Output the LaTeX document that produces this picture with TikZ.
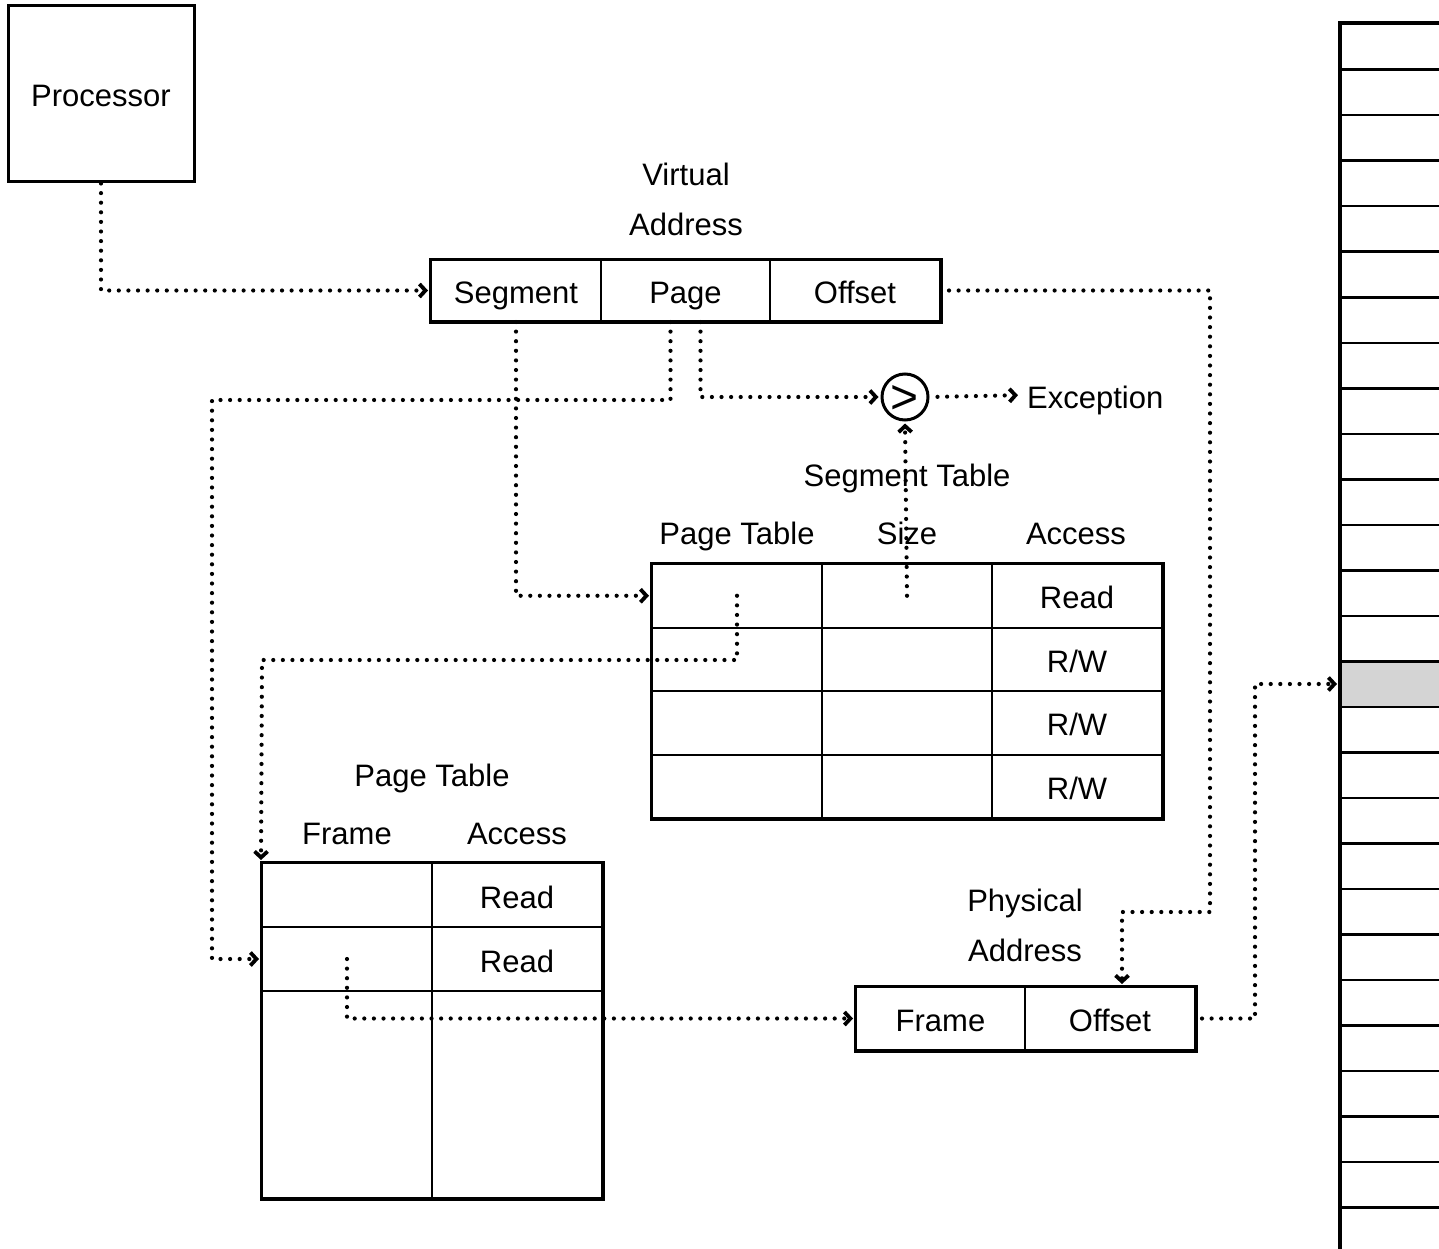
\documentclass[tikz,border=0pt]{standalone}
\usepackage{fontspec}
\setmainfont{Liberation Sans}
\usetikzlibrary{arrows.meta,calc}

\tikzset{
  lbl/.style={font=\fontsize{31}{50}\selectfont, text height=28pt, text depth=2pt, inner sep=0pt},
  cell/.style={draw, line width=2pt, lbl, minimum width=170pt, minimum height=63.5pt},
  frame/.style={line width=3pt},
  flow/.style={line width=4.2pt, line cap=round, dash pattern=on 0pt off 9.6pt,
    -{Straight Barb[length=6pt,width=13pt,line width=3.8pt]}, shorten >=2pt},
  memrow/.style={draw, line width=2.5pt, minimum width=200pt, minimum height=45.5pt,
    anchor=north west, inner sep=0pt}
}

\begin{document}
\begin{tikzpicture}[x=1pt, y=-1pt]
	%%%%% START %%%%%
	\useasboundingbox (0,0) rectangle (1439,1249);
	
	\node[draw, frame, lbl, minimum width=186pt, minimum height=176pt] (proc) at (101,94) {Processor};
	
	% virtual address
	\node[font=\fontsize{31}{50}\selectfont, align=center] (vaddr) at (686,199) {Virtual\\Address};
	\node[cell, minimum height=61pt] (vseg) at (516,290.5) {Segment};
	\node[cell, minimum height=61pt, minimum width=169pt] (vpg) at (685.5,290.5) {Page};
	\node[cell, minimum height=61pt] (voff) at (855,290.5) {Offset};
	\draw[frame] (vseg.north west) rectangle (voff.south east);
	
	% comparator
	\node[circle, draw, line width=3pt, minimum size=46pt, inner sep=0pt,
	  font=\fontsize{48}{48}\selectfont, text height=33pt, text depth=0pt] (cmp) at (905,397) {>};
	\node[lbl, anchor=west] (exc) at (1027,395) {Exception};
	
	% segment table
	\node[lbl] (sttitle) at (907,473) {Segment Table};
	\node[lbl] (sthpt) at (737,531) {Page Table};
	\node[lbl] (sthsz) at (907,531) {Size};
	\node[lbl] (sthac) at (1076,531) {Access};
	\foreach \acc [count=\i] in {Read, R/W, R/W, R/W} {
		\node[cell] (st-\i-1) at (737,532.25+63.5*\i) {};
		\node[cell] (st-\i-2) at (907,532.25+63.5*\i) {};
		\node[cell] (st-\i-3) at (1077,532.25+63.5*\i) {\acc};
	}
	\draw[frame] (st-1-1.north west) rectangle (st-4-3.south east);
	
	% page table
	\node[lbl] (pttitle) at (432,773) {Page Table};
	\node[lbl] (pthfr) at (347,831) {Frame};
	\node[lbl] (pthac) at (517,831) {Access};
	\node[cell, minimum height=64pt] (pt-1-1) at (347,895) {};
	\node[cell, minimum height=64pt] (pt-1-2) at (517,895) {Read};
	\node[cell, minimum height=64pt] (pt-2-1) at (347,959) {};
	\node[cell, minimum height=64pt] (pt-2-2) at (517,959) {Read};
	\node[cell, minimum height=207pt] (pt-3-1) at (347,1094.5) {};
	\node[cell, minimum height=207pt] (pt-3-2) at (517,1094.5) {};
	\draw[frame] (pt-1-1.north west) rectangle (pt-3-2.south east);
	
	% physical address
	\node[font=\fontsize{31}{50}\selectfont, align=center] (paddr) at (1025,925) {Physical\\Address};
	\node[cell, minimum height=63pt, minimum width=169pt] (pfr) at (940.5,1018.5) {Frame};
	\node[cell, minimum height=63pt] (poff) at (1110,1018.5) {Offset};
	\draw[frame] (pfr.north west) rectangle (poff.south east);
	
	% memory
	\foreach \i in {0,...,26} {
		\node[memrow] (mem-\i) at (1339,23+45.5*\i) {};
	}
	\node[memrow, fill=black!17] (mem-14) at (1339,23+45.5*14) {};
	\draw[frame] (mem-26.south west) -- (mem-0.north west) -- (mem-0.north east);
	
	% connectors
	\coordinate (pgturn) at (212,400);
	\coordinate (offturn) at (1210,912);
	\coordinate (ptturn) at (262,660);
	\draw[flow] (proc.south) |- (vseg.west);
	\draw[flow] (vseg.south) |- (st-1-1.west);
	\draw[flow] ($(vpg.south)+(-15,0)$) |- (pgturn) |- (pt-2-1.west);
	\draw[flow] ($(vpg.south)+(15,0)$) |- (cmp.west);
	\draw[flow] (st-1-2.center) -- (cmp.south);
	\draw[flow, shorten <=8pt, shorten >=9pt] (cmp.east) -- (exc.west);
	\draw[flow, shorten <=8pt] (voff.east) -| (offturn) -| ($(poff.north)+(12,0)$);
	\draw[flow] (st-1-1.center) |- (ptturn) -- (pt-1-1.north west);
	\draw[flow] (pt-2-1.center) |- (pfr.west);
	\draw[flow, shorten <=6pt] (poff.east) -- ++(59,0) |- (mem-14.west);
	
	%%%%% END %%%%%
\end{tikzpicture}
\end{document}
